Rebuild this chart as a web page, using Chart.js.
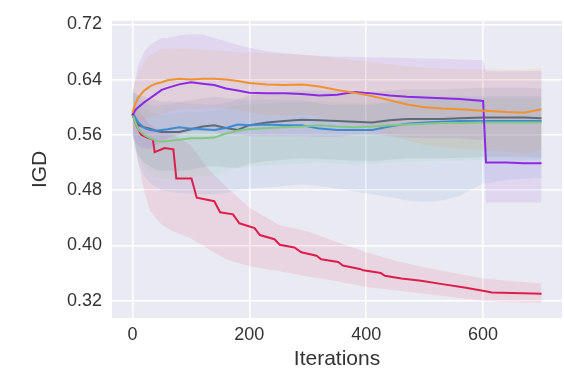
<!DOCTYPE html>
<html>
<head>
<meta charset="utf-8">
<script src="https://cdn.jsdelivr.net/npm/chart.js@4/dist/chart.umd.min.js"></script>
<style>
  html, body { margin: 0; padding: 0; background: #ffffff; }
  #wrap { width: 564px; height: 372px; position: relative; }
</style>
</head>
<body>
<div id="wrap"><canvas id="chart"></canvas></div>
<script>
// shared iteration grid for the five flat-ish runs
const iters = [0, 5, 10, 20, 30, 40, 50, 60, 80, 100, 120, 140, 160, 180, 200, 230, 260, 290, 320, 350, 380, 410, 440, 470, 500, 530, 560, 600, 605, 640, 670, 700];

const purpleIGD  = [0.588, 0.596, 0.600, 0.607, 0.613, 0.619, 0.625, 0.628, 0.633, 0.636, 0.634, 0.632, 0.627, 0.624, 0.621, 0.620, 0.620, 0.619, 0.617, 0.618, 0.622, 0.620, 0.617, 0.615, 0.614, 0.613, 0.612, 0.609, 0.520, 0.520, 0.519, 0.519];
const purpleHigh = [0.620, 0.640, 0.660, 0.680, 0.690, 0.695, 0.700, 0.700, 0.704, 0.705, 0.705, 0.700, 0.695, 0.690, 0.686, 0.681, 0.678, 0.676, 0.674, 0.673, 0.673, 0.672, 0.672, 0.671, 0.670, 0.670, 0.669, 0.668, 0.652, 0.652, 0.652, 0.652];
const purpleLow  = [0.560, 0.550, 0.545, 0.540, 0.540, 0.545, 0.550, 0.555, 0.560, 0.565, 0.565, 0.565, 0.560, 0.560, 0.558, 0.558, 0.558, 0.558, 0.557, 0.557, 0.560, 0.560, 0.558, 0.556, 0.555, 0.555, 0.555, 0.552, 0.462, 0.462, 0.462, 0.462];

const orangeIGD  = [0.592, 0.605, 0.614, 0.624, 0.630, 0.634, 0.636, 0.639, 0.641, 0.640, 0.641, 0.641, 0.640, 0.638, 0.635, 0.633, 0.632, 0.633, 0.630, 0.625, 0.621, 0.616, 0.610, 0.604, 0.600, 0.598, 0.597, 0.595, 0.595, 0.593, 0.592, 0.597];
const orangeHigh = [0.620, 0.640, 0.650, 0.665, 0.675, 0.680, 0.685, 0.685, 0.685, 0.684, 0.683, 0.682, 0.681, 0.680, 0.679, 0.678, 0.677, 0.676, 0.674, 0.671, 0.668, 0.665, 0.662, 0.659, 0.657, 0.656, 0.655, 0.655, 0.655, 0.654, 0.654, 0.656];
const orangeLow  = [0.565, 0.570, 0.578, 0.583, 0.585, 0.588, 0.590, 0.593, 0.597, 0.597, 0.598, 0.599, 0.598, 0.597, 0.592, 0.589, 0.588, 0.590, 0.587, 0.580, 0.575, 0.568, 0.560, 0.552, 0.545, 0.542, 0.540, 0.538, 0.538, 0.535, 0.533, 0.538];

const blueIGD  = [0.592, 0.585, 0.578, 0.570, 0.567, 0.566, 0.567, 0.568, 0.571, 0.569, 0.568, 0.567, 0.570, 0.575, 0.574, 0.575, 0.574, 0.574, 0.569, 0.567, 0.567, 0.567, 0.572, 0.576, 0.578, 0.579, 0.580, 0.580, 0.580, 0.580, 0.580, 0.580];
const blueHigh = [0.625, 0.620, 0.615, 0.607, 0.603, 0.602, 0.603, 0.604, 0.607, 0.605, 0.604, 0.603, 0.606, 0.611, 0.610, 0.611, 0.610, 0.610, 0.605, 0.603, 0.603, 0.603, 0.608, 0.612, 0.614, 0.615, 0.616, 0.616, 0.616, 0.616, 0.616, 0.616];
const blueLow  = [0.560, 0.540, 0.520, 0.500, 0.490, 0.485, 0.480, 0.478, 0.476, 0.475, 0.474, 0.474, 0.476, 0.480, 0.482, 0.484, 0.486, 0.488, 0.486, 0.482, 0.478, 0.474, 0.470, 0.465, 0.463, 0.465, 0.472, 0.490, 0.490, 0.495, 0.497, 0.498];

const greyIGD  = [0.590, 0.580, 0.574, 0.571, 0.569, 0.566, 0.564, 0.564, 0.564, 0.568, 0.572, 0.574, 0.570, 0.567, 0.574, 0.578, 0.580, 0.582, 0.581, 0.580, 0.579, 0.578, 0.581, 0.583, 0.583, 0.583, 0.584, 0.585, 0.585, 0.585, 0.585, 0.584];
const greyHigh = [0.620, 0.620, 0.618, 0.615, 0.612, 0.610, 0.608, 0.608, 0.608, 0.610, 0.613, 0.615, 0.613, 0.612, 0.617, 0.620, 0.622, 0.624, 0.624, 0.623, 0.622, 0.622, 0.624, 0.626, 0.626, 0.626, 0.627, 0.628, 0.628, 0.628, 0.628, 0.627];
const greyLow  = [0.560, 0.540, 0.530, 0.520, 0.515, 0.510, 0.508, 0.508, 0.508, 0.510, 0.513, 0.515, 0.513, 0.512, 0.518, 0.522, 0.524, 0.526, 0.525, 0.524, 0.523, 0.522, 0.524, 0.526, 0.526, 0.526, 0.527, 0.528, 0.528, 0.528, 0.528, 0.527];

const greenIGD  = [0.590, 0.578, 0.568, 0.560, 0.555, 0.552, 0.550, 0.551, 0.553, 0.555, 0.555, 0.556, 0.562, 0.566, 0.568, 0.570, 0.571, 0.572, 0.574, 0.572, 0.571, 0.572, 0.574, 0.575, 0.576, 0.577, 0.577, 0.578, 0.578, 0.578, 0.578, 0.578];
const greenHigh = [0.615, 0.610, 0.605, 0.598, 0.594, 0.591, 0.589, 0.589, 0.591, 0.593, 0.593, 0.594, 0.599, 0.602, 0.604, 0.605, 0.606, 0.607, 0.609, 0.607, 0.606, 0.607, 0.609, 0.610, 0.611, 0.612, 0.612, 0.613, 0.613, 0.613, 0.613, 0.613];
const greenLow  = [0.565, 0.545, 0.530, 0.515, 0.505, 0.500, 0.497, 0.497, 0.498, 0.500, 0.500, 0.502, 0.508, 0.512, 0.514, 0.516, 0.517, 0.518, 0.520, 0.518, 0.517, 0.518, 0.520, 0.521, 0.522, 0.523, 0.523, 0.524, 0.524, 0.524, 0.524, 0.524];

// the red run is a staircase, so it has its own iteration points
const redIters = [0, 5, 10, 15, 25, 35, 38, 55, 70, 75, 101, 110, 140, 150, 172, 183, 209, 218, 243, 252, 277, 289, 315, 323, 352, 360, 389, 395, 425, 432, 460, 494, 530, 568, 602, 615, 650, 700];
const redIGD   = [0.590, 0.578, 0.568, 0.560, 0.556, 0.553, 0.535, 0.541, 0.539, 0.497, 0.497, 0.469, 0.464, 0.448, 0.445, 0.432, 0.425, 0.415, 0.409, 0.401, 0.397, 0.390, 0.385, 0.380, 0.376, 0.371, 0.366, 0.364, 0.360, 0.356, 0.352, 0.349, 0.344, 0.339, 0.334, 0.332, 0.331, 0.330];
const redBandIters = [0, 10, 20, 30, 50, 70, 100, 130, 160, 200, 250, 300, 350, 400, 450, 500, 550, 600, 650, 700];
const redHigh = [0.600, 0.595, 0.585, 0.575, 0.565, 0.560, 0.545, 0.510, 0.485, 0.455, 0.430, 0.420, 0.405, 0.390, 0.378, 0.368, 0.360, 0.352, 0.348, 0.345];
const redLow  = [0.575, 0.520, 0.480, 0.450, 0.430, 0.420, 0.410, 0.395, 0.380, 0.370, 0.363, 0.355, 0.348, 0.340, 0.335, 0.330, 0.325, 0.320, 0.318, 0.317];

const xTicks = [0, 200, 400, 600];
const yTicks = [0.32, 0.40, 0.48, 0.56, 0.64, 0.72];

const pts = (xs, ys) => xs.map((x, i) => ({ x: x, y: ys[i] }));

const runs = [
    { color: '#f0922e', xs: iters, mean: orangeIGD, high: orangeHigh, low: orangeLow },
    { color: '#8a2be2', xs: iters, mean: purpleIGD, high: purpleHigh, low: purpleLow },
    { color: '#82c785', xs: iters, mean: greenIGD, high: greenHigh, low: greenLow },
    { color: '#3d8bd4', xs: iters, mean: blueIGD, high: blueHigh, low: blueLow },
    { color: '#5d6b78', xs: iters, mean: greyIGD, high: greyHigh, low: greyLow },
    { color: '#dc1e4b', xs: redIters, mean: redIGD, bandXs: redBandIters, high: redHigh, low: redLow }
];

const hexA = (hex, a) => {
    const n = parseInt(hex.slice(1), 16);
    return `rgba(${(n >> 16) & 255}, ${(n >> 8) & 255}, ${n & 255}, ${a})`;
};

const datasets = [];
// bands first: upper fills down to the following (lower) dataset
runs.forEach(r => {
    const bx = r.bandXs || r.xs;
    datasets.push({
        data: pts(bx, r.high), borderWidth: 0, pointRadius: 0,
        backgroundColor: hexA(r.color, 0.1), fill: '+1'
    });
    datasets.push({
        data: pts(bx, r.low), borderWidth: 0, pointRadius: 0, fill: false
    });
});
runs.forEach(r => {
    datasets.push({
        data: pts(r.xs, r.mean), borderColor: r.color, borderWidth: 2,
        pointRadius: 0, fill: false, tension: 0
    });
});

const plotBg = {
    id: 'plotBg',
    beforeDraw(chart) {
        const { ctx, chartArea: a } = chart;
        ctx.save();
        ctx.fillStyle = '#eaeaf2';
        ctx.fillRect(a.left, a.top, a.right - a.left, a.bottom - a.top);
        ctx.restore();
    }
};

const tickFont = { family: 'Liberation Sans, Arial, sans-serif', size: 18 };
const titleFont = { family: 'Liberation Sans, Arial, sans-serif', size: 21 };

new Chart(document.getElementById('chart'), {
    type: 'line',
    data: { datasets: datasets },
    plugins: [plotBg],
    options: {
        responsive: true,
        maintainAspectRatio: false,
        animation: false,
        layout: { padding: { top: 10, right: 2, left: 0, bottom: 0 } },
        plugins: {
            legend: { display: false },
            tooltip: { enabled: false },
            filler: { drawTime: 'beforeDatasetsDraw' }
        },
        scales: {
            x: {
                type: 'linear', min: -35, max: 735,
                afterBuildTicks: s => { s.ticks = xTicks.map(v => ({ value: v })); },
                afterFit: s => { s.height = 54; },
                grid: { color: '#ffffff', lineWidth: 1.5, drawTicks: false },
                border: { display: false },
                ticks: { color: '#333333', font: tickFont, padding: 6 },
                title: { display: true, text: 'Iterations', color: '#333333', font: titleFont, padding: { top: 0, bottom: 0 } }
            },
            y: {
                type: 'linear', min: 0.295, max: 0.725,
                afterBuildTicks: s => { s.ticks = yTicks.map(v => ({ value: v })); },
                afterFit: s => { s.width = 112; },
                grid: { color: '#ffffff', lineWidth: 1.5, drawTicks: false },
                border: { display: false },
                ticks: { color: '#333333', font: tickFont, padding: 10, callback: v => v.toFixed(2) },
                title: { display: true, text: 'IGD', color: '#333333', font: titleFont, padding: { top: 28, bottom: 0 } }
            }
        }
    }
});
</script>
</body>
</html>
